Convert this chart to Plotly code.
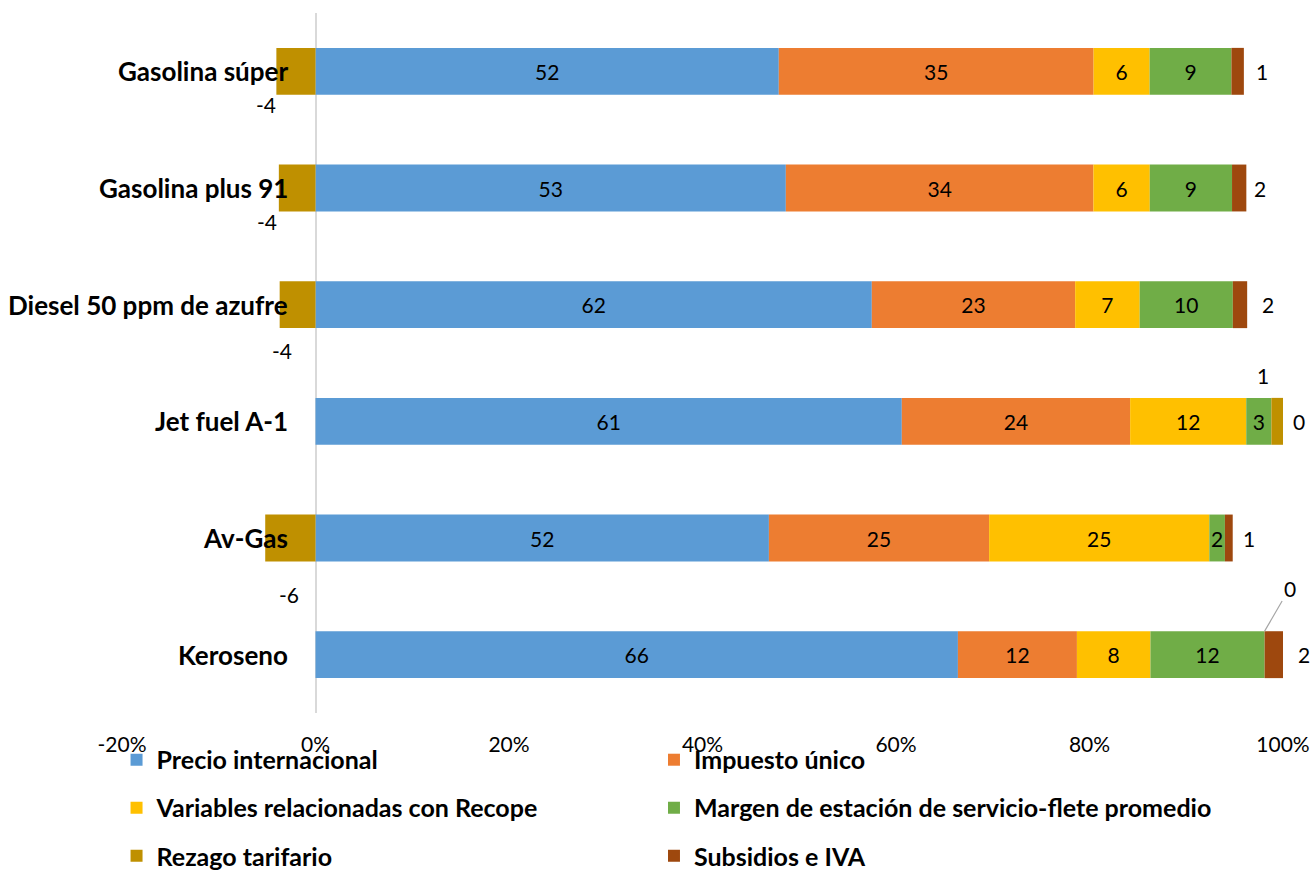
import numpy as np
import plotly.graph_objects as go

# ---------------- data ----------------
categories = ["Gasolina súper", "Gasolina plus 91", "Diesel 50 ppm de azufre",
              "Jet fuel A-1", "Av-Gas", "Keroseno"]
series_names = ["Precio internacional", "Impuesto único",
                "Variables relacionadas con Recope",
                "Margen de estación de servicio-flete promedio",
                "Rezago tarifario", "Subsidios e IVA"]
precio_internacional = [52.1, 52.6, 62.1, 60.6, 52.3, 66.4]
impuesto_unico = [35.4, 34.4, 22.7, 23.6, 25.4, 12.3]
variables_recope = [6.3, 6.3, 7.2, 12.0, 25.4, 7.6]
margen_estacion = [9.2, 9.2, 10.4, 2.6, 1.8, 11.8]
rezago_tarifario = [-4.4, -4.1, -4.0, 1.2, -5.8, 0.0]
subsidios_iva = [1.4, 1.6, 1.6, 0.0, 0.9, 1.9]
tick_values = [-20, 0, 20, 40, 60, 80, 100]

# ---------------- styles ----------------
colors = ["#5B9BD5", "#ED7D31", "#FFC000", "#70AD47", "#BF9000", "#9E480E"]
legend_ids = ["legend", "legend2", "legend3", "legend4", "legend5", "legend6"]
legend_x = [-0.0047, 0.4582]                 # two legend columns
legend_y = [-0.0671, -0.1357, -0.2043]       # three legend rows
FONT = "Lato"
LABEL_SIZE = 21

values = np.array([precio_internacional, impuesto_unico, variables_recope,
                   margen_estacion, rezago_tarifario, subsidios_iva])
total_abs = np.abs(values).sum(axis=0)
pct = values / total_abs * 100  # 100% stacked, as in the source chart

fig = go.Figure()
for i, name in enumerate(series_names):
    inside = i < 4
    fig.add_trace(go.Bar(
        y=categories, x=pct[i], orientation="h", name=name,
        marker=dict(color=colors[i], line=dict(width=0)),
        text=[f"{v:.0f}" for v in values[i]] if inside else None,
        textposition="inside" if inside else "none",
        insidetextanchor="middle", textangle=0, constraintext="none",
        textfont=dict(family=FONT, size=LABEL_SIZE, color="#000000"),
        legend=legend_ids[i], cliponaxis=False, hoverinfo="skip",
    ))

annotations = []
# category labels next to the 0 axis
for c in categories:
    annotations.append(dict(x=0, y=c, xref="x", yref="y", text=c,
                            xanchor="right", yanchor="middle", xshift=-26,
                            showarrow=False,
                            font=dict(family=FONT, size=26, color="#000000",
                                      weight="bold")))

# Subsidios e IVA labels: right of the positive end of each bar
pos_end = np.where(pct > 0, pct, 0).sum(axis=0)
sub_shift = [18, 14, 21, 16, 16, 21]
for j, c in enumerate(categories):
    annotations.append(dict(x=pos_end[j], y=c, xref="x", yref="y",
                            text=f"{subsidios_iva[j]:.0f}", xanchor="center",
                            xshift=sub_shift[j], showarrow=False,
                            font=dict(family=FONT, size=LABEL_SIZE, color="#000000")))

# Rezago tarifario labels (manually placed in the source)
rez_shift = [(-10, -33), (-12, -33), (2, -46), (-14, 46), (24, -56), None]
cum_before_rez = pct[:4].sum(axis=0)
for j, c in enumerate(categories):
    v = rezago_tarifario[j]
    txt = f"{v:.0f}"
    if rez_shift[j] is None:
        # zero-width segment: label with a leader line
        annotations.append(dict(x=cum_before_rez[j], y=c, xref="x", yref="y",
                                text=txt, showarrow=True, arrowhead=0,
                                arrowwidth=1.2, arrowcolor="#A6A6A6",
                                ax=25, ay=-43, yshift=23.5, standoff=0,
                                font=dict(family=FONT, size=LABEL_SIZE, color="#000000")))
    else:
        dx, dy = rez_shift[j]
        xpos = pct[4][j] if v < 0 else cum_before_rez[j] + pct[4][j] / 2
        annotations.append(dict(x=xpos, y=c, xref="x", yref="y", text=txt,
                                xanchor="center", xshift=dx, yshift=dy,
                                showarrow=False,
                                font=dict(family=FONT, size=LABEL_SIZE, color="#000000")))

legend_common = dict(orientation="h",
                     font=dict(family=FONT, size=25, color="#000000", weight="bold"),
                     bgcolor="rgba(0,0,0,0)", xanchor="left", yanchor="middle",
                     itemclick=False, itemdoubleclick=False)
legends = {}
for i, lid in enumerate(legend_ids):
    legends[lid] = dict(**legend_common, x=legend_x[i % 2], y=legend_y[i // 2])

fig.update_layout(
    width=1314, height=871,
    margin=dict(l=122, r=31, t=13, b=158, autoexpand=False),
    barmode="relative", bargap=0.598,
    plot_bgcolor="white", paper_bgcolor="white",
    font=dict(family=FONT, color="#000000"),
    xaxis=dict(range=[-20, 100], autorange=False, tickvals=tick_values,
               ticktext=[f"{t}%" for t in tick_values],
               showgrid=False, zeroline=True, zerolinecolor="#D9D9D9",
               zerolinewidth=2, showline=False, layer="above traces",
               ticks="", ticklabelstandoff=17, automargin=False,
               tickfont=dict(family=FONT, size=LABEL_SIZE, color="#000000"),
               fixedrange=True),
    yaxis=dict(categoryorder="array", categoryarray=categories,
               range=[len(categories) - 0.5, -0.5], autorange=False,
               showticklabels=False, showgrid=False,
               zeroline=False, showline=False, ticks="", fixedrange=True,
               automargin=False),
    annotations=annotations,
    showlegend=True,
    **legends,
)

# remove the default 8 px body margin of the page so the figure fills the window
fig.write_html("out.html",
               config={"displayModeBar": False},
               post_script="document.body.style.margin='0';"
                           "document.body.style.overflow='hidden';")
